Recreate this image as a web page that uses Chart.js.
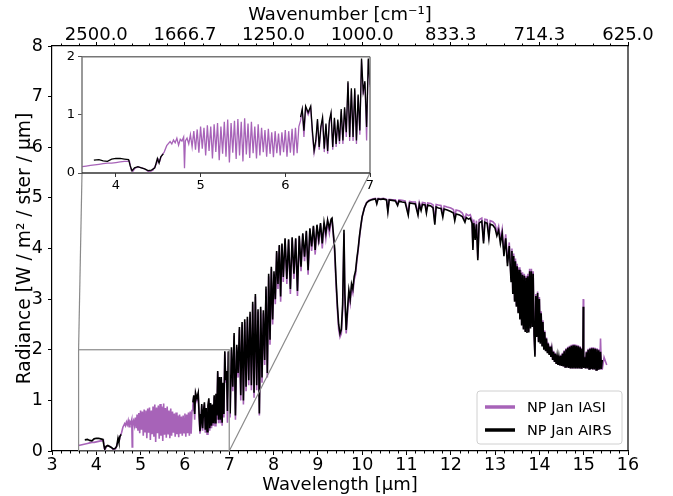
<!DOCTYPE html>
<html>
<head>
<meta charset="utf-8">
<script src="https://cdn.jsdelivr.net/npm/chart.js@4.4.0/dist/chart.umd.min.js"></script>
<style>
  html, body { margin: 0; padding: 0; background: #fff; }
  #wrap { position: relative; width: 673px; height: 496px; }
  #mainChart { position: absolute; left: 0; top: 0; }
  #insetChart { position: absolute; left: 56px; top: 46px; }
</style>
</head>
<body>
<div id="wrap">
  <canvas id="mainChart" width="673" height="496"></canvas>
  <canvas id="insetChart" width="322" height="150"></canvas>
</div>
<script>
const IASI_COLOR = '#a763b8';
const AIRS_COLOR = '#000000';
const FRAME_GREY = '#8a8a8a';

// Series labels
const seriesLabels = ['NP Jan IASI', 'NP Jan AIRS'];

// Tick labels
const mainXTicks = [3, 4, 5, 6, 7, 8, 9, 10, 11, 12, 13, 14, 15, 16];
const topTickWl = [4, 6, 8, 10, 12, 14, 16];
const wavenumberLabels = ['2500.0', '1666.7', '1250.0', '1000.0', '833.3', '714.3', '625.0'];
const insetXTicks = [4, 5, 6, 7];
const insetYTicks = [0, 1, 2];

// IASI only part, short wavelengths (um)
const iasiWlShort = [
  3.60,3.65,3.70,3.75,3.80,3.85,3.90,3.95,4.00,4.05,
  4.10,4.14,4.16,4.18,4.20,4.23,4.27,4.31,4.35,4.38,
  4.41,4.44,4.46,4.48,4.50,4.52,4.54,4.57,4.60,4.64,
  4.66,4.68,4.70,4.72,4.74,4.76,4.78,4.80,4.81,4.82,
  4.84,4.86,4.88,4.90,4.92,4.94,4.96,4.98,5.00,5.02,
  5.04,5.06,5.08,5.10,5.12,5.14,5.16,5.18,5.20,5.22,
  5.24,5.26,5.28,5.30,5.32,5.34,5.36,5.38,5.40,5.42,
  5.44,5.46,5.48,5.50,5.52,5.54,5.56,5.58,5.60,5.62,
  5.64,5.66,5.68,5.70,5.72,5.74,5.76,5.78,5.80,5.82,
  5.84,5.86,5.88,5.90,5.92,5.94,5.96,5.98,6.00,6.02,
  6.04,6.06,6.08,6.10,6.12,6.14,6.16
];
const iasiRadShort = [
  0.11,0.12,0.13,0.14,0.15,0.16,0.17,0.17,0.18,0.19,
  0.20,0.20,0.21,0.05,0.03,0.09,0.10,0.09,0.06,0.03,
  0.03,0.05,0.11,0.16,0.24,0.21,0.30,0.36,0.47,0.54,
  0.50,0.57,0.52,0.60,0.48,0.58,0.55,0.62,0.08,0.55,
  0.60,0.50,0.66,0.45,0.72,0.40,0.75,0.35,0.80,0.42,
  0.78,0.30,0.82,0.38,0.80,0.25,0.84,0.36,0.86,0.22,
  0.80,0.33,0.88,0.28,0.92,0.18,0.86,0.35,0.90,0.24,
  0.93,0.30,0.88,0.20,0.94,0.32,0.85,0.26,0.88,0.34,
  0.80,0.25,0.84,0.30,0.78,0.36,0.74,0.28,0.76,0.33,
  0.70,0.27,0.72,0.34,0.68,0.30,0.70,0.36,0.74,0.28,
  0.72,0.35,0.76,0.30,0.78,0.34,0.80
];

// AIRS short-wave piece
const airsWlShort = [3.74,3.80,3.85,3.90,3.95,4.00,4.05,4.10,4.15,4.17,4.19,4.22,4.26,4.30,4.34,4.38,4.42,4.46,4.49,4.51,4.53,4.56];
const airsRadShort = [0.22,0.23,0.21,0.20,0.24,0.25,0.25,0.24,0.23,0.12,0.04,0.09,0.11,0.09,0.07,0.04,0.05,0.09,0.25,0.17,0.28,0.33];

// shared wavelength grid where both instruments overlap
const longWl = [
  6.18,6.20,6.22,6.24,6.27,6.30,6.32,6.34,6.36,6.38,
  6.40,6.42,6.44,6.46,6.48,6.50,6.52,6.54,6.56,6.58,
  6.60,6.62,6.64,6.66,6.68,6.70,6.72,6.74,6.76,6.78,
  6.80,6.82,6.84,6.86,6.88,6.90,6.92,6.94,6.96,6.98,
  7.00,7.02,7.05,7.08,7.11,7.14,7.17,7.20,7.23,7.26,
  7.29,7.32,7.35,7.38,7.41,7.44,7.47,7.50,7.53,7.56,
  7.59,7.62,7.65,7.68,7.71,7.74,7.77,7.80,7.83,7.86,
  7.89,7.92,7.95,7.98,8.01,8.04,8.07,8.10,8.13,8.16,
  8.19,8.22,8.26,8.30,8.34,8.38,8.42,8.46,8.50,8.54,
  8.58,8.62,8.66,8.70,8.74,8.78,8.82,8.86,8.90,8.94,
  8.98,9.02,9.06,9.10,9.14,9.18,9.22,9.26,9.30,9.32,
  9.35,9.38,9.41,9.44,9.47,9.50,9.53,9.56,9.59,9.61,
  9.64,9.67,9.70,9.73,9.76,9.79,9.82,9.85,9.88,9.91,
  9.94,9.97,10.00,10.05,10.10,10.15,10.20,10.25,10.30,10.33,
  10.36,10.42,10.48,10.55,10.58,10.61,10.68,10.75,10.80,10.83,
  10.90,10.97,11.04,11.07,11.14,11.20,11.26,11.29,11.33,11.36,
  11.42,11.45,11.48,11.55,11.60,11.64,11.67,11.72,11.78,11.82,
  11.85,11.92,12.00,12.06,12.09,12.12,12.20,12.26,12.32,12.35,
  12.40,12.44,12.48,12.50,12.52,12.55,12.58,12.61,12.64,12.70,
  12.74,12.77,12.82,12.86,12.89,12.95,13.00,13.04,13.08,13.12,
  13.16,13.20,13.24,13.28,13.32,13.36,
  13.38,13.40,13.42,13.44,13.46,13.48,13.50,13.52,13.54,13.56,
  13.58,13.60,13.62,13.64,13.66,13.68,13.70,13.72,13.74,13.76,
  13.78,13.80,13.82,13.84,13.86,13.88,13.90,13.92,13.94,13.96,
  13.98,14.00,14.02,14.04,14.06,14.08,14.10,14.12,14.14,14.16,
  14.18,14.20,14.22,14.24,14.26,14.28,14.30,14.32,14.34,14.36,
  14.38,14.40,14.42,14.44,14.46,14.48,14.50,14.52,14.54,14.56,
  14.58,14.60,14.62,14.64,14.66,14.68,14.70,14.72,14.74,14.76,
  14.78,14.80,14.82,14.84,14.86,14.88,14.90,14.92,14.94,14.96,
  14.98,14.99,15.00,15.02,15.04,15.06,15.08,15.10,15.12,15.14,
  15.16,15.18,15.20,15.22,15.24,15.26,15.28,15.30,15.32,15.34,
  15.36,15.38,15.40,15.42,15.46,15.52
];
const airsRadLong = [
  0.96,1.10,0.73,1.15,1.04,1.15,0.73,0.39,0.56,0.93,
  0.45,0.80,0.96,0.42,0.85,0.38,0.90,1.04,0.45,0.95,
  0.50,0.92,0.55,1.10,0.56,1.13,0.70,1.58,0.62,1.46,
  0.62,1.46,0.56,1.35,0.73,1.97,1.40,1.58,0.79,1.97,
  1.52,0.74,2.05,1.27,2.33,0.70,2.10,1.54,2.45,1.10,
  2.55,1.00,2.60,1.27,2.65,1.40,2.75,1.30,2.95,1.15,
  3.10,1.30,2.80,0.74,2.85,1.45,2.78,1.80,3.25,1.54,
  3.50,2.20,3.64,2.60,3.55,3.00,3.95,3.30,4.07,3.05,
  4.10,3.44,4.20,3.40,4.18,3.20,4.22,3.50,4.20,3.16,
  4.25,3.64,4.30,3.84,4.35,3.57,4.40,4.04,4.45,3.97,
  4.47,4.17,4.50,4.10,4.52,4.30,4.56,4.40,4.58,4.60,
  4.30,4.00,3.40,2.90,2.50,2.32,2.40,2.90,4.37,3.10,
  2.39,2.80,3.18,3.00,3.30,3.20,3.45,3.55,3.80,4.00,
  4.25,4.45,4.63,4.80,4.90,4.94,4.96,4.97,4.98,4.88,
  4.98,4.97,4.98,4.96,4.72,4.96,4.95,4.94,4.85,4.94,
  4.92,4.91,4.66,4.90,4.89,4.88,4.66,4.87,4.75,4.87,
  4.86,4.70,4.86,4.84,4.80,4.47,4.82,4.80,4.79,4.62,
  4.78,4.76,4.73,4.70,4.55,4.68,4.66,4.63,4.52,4.61,
  4.58,4.60,4.50,3.97,4.50,4.17,4.48,3.77,4.50,4.54,
  4.10,4.52,4.50,4.20,4.48,4.46,4.40,4.25,4.36,4.10,
  4.30,3.85,4.20,3.65,4.05,3.35,
  3.95,3.10,3.85,2.95,3.75,2.85,3.65,2.72,3.58,2.60,
  3.52,2.48,3.48,2.40,3.46,2.35,3.42,2.33,3.45,2.34,
  3.55,2.42,3.55,2.45,3.50,2.28,1.86,3.06,2.25,3.12,
  2.15,3.00,2.12,2.72,2.08,2.55,2.00,2.35,1.97,2.22,
  1.93,2.12,1.90,2.06,1.86,2.00,1.80,1.96,1.76,1.92,
  1.72,1.88,1.70,1.86,1.69,1.88,1.68,1.92,1.67,1.97,
  1.66,2.01,1.65,2.04,1.64,2.06,1.63,2.08,1.63,2.09,
  1.63,2.09,1.63,2.08,1.63,2.07,1.63,2.05,1.64,2.02,
  1.66,2.85,1.64,1.85,1.63,1.95,1.63,2.00,1.62,2.02,
  1.62,2.03,1.61,2.03,1.61,2.02,1.60,2.01,1.60,1.99,
  1.61,1.96,1.62,1.80,null,null
];
const iasiRadLong = [
  0.90,1.08,0.62,1.12,1.00,1.12,0.66,0.34,0.50,0.90,
  0.40,0.76,0.92,0.36,0.82,0.33,0.86,1.00,0.40,0.92,
  0.45,0.88,0.50,1.06,0.50,1.10,0.62,1.55,0.55,1.42,
  0.55,1.42,0.50,1.32,0.66,1.95,1.35,1.55,0.56,1.95,
  1.48,0.66,2.00,1.18,2.28,0.62,2.05,1.45,2.40,1.00,
  2.50,0.92,2.55,1.18,2.60,1.30,2.70,1.20,2.90,1.05,
  3.05,1.20,2.75,0.70,2.80,1.35,2.72,1.70,3.20,1.45,
  3.45,2.10,3.60,2.50,3.50,2.90,3.92,3.20,4.05,2.95,
  4.08,3.34,4.18,3.30,4.16,3.10,4.20,3.40,4.18,3.06,
  4.23,3.55,4.28,3.75,4.33,3.48,4.38,3.95,4.43,3.88,
  4.45,4.08,4.48,4.00,4.50,4.20,4.54,4.30,4.56,4.58,
  4.25,3.90,3.30,2.80,2.40,2.25,2.32,2.80,4.30,3.00,
  2.32,2.70,3.10,2.92,3.22,3.12,3.38,3.48,3.75,3.96,
  4.22,4.43,4.62,4.80,4.91,4.95,4.97,4.98,4.99,4.90,
  4.99,4.98,4.99,4.97,4.76,4.97,4.96,4.96,4.88,4.96,
  4.95,4.94,4.70,4.93,4.92,4.92,4.70,4.91,4.80,4.91,
  4.90,4.75,4.90,4.89,4.86,4.52,4.87,4.86,4.85,4.68,
  4.84,4.82,4.80,4.77,4.62,4.76,4.74,4.70,4.58,4.68,
  4.65,4.67,4.56,4.02,4.57,4.22,4.55,3.82,4.57,4.60,
  4.15,4.58,4.57,4.26,4.55,4.53,4.48,4.32,4.44,4.18,
  4.38,3.92,4.28,3.72,4.12,3.40,
  4.00,3.12,3.90,2.98,3.80,2.88,3.70,2.75,3.63,2.63,
  3.57,2.50,3.53,2.42,3.50,2.37,3.46,2.35,3.50,2.36,
  3.60,2.44,3.60,2.48,3.55,2.30,1.90,3.10,2.28,3.15,
  2.17,3.04,2.15,2.76,2.10,2.58,2.02,2.38,1.98,2.24,
  1.95,2.14,1.92,2.08,1.88,2.02,1.80,1.98,1.76,1.94,
  1.72,1.90,1.70,1.88,1.69,1.90,1.68,1.94,1.67,1.99,
  1.66,2.03,1.65,2.06,1.64,2.08,1.63,2.10,1.63,2.11,
  1.63,2.11,1.63,2.10,1.63,2.09,1.63,2.07,1.64,2.04,
  1.66,3.00,1.64,1.87,1.63,1.97,1.63,2.02,1.62,2.04,
  1.62,2.05,1.61,2.05,1.61,2.04,1.60,2.03,1.60,2.01,
  1.61,2.22,1.62,1.62,1.85,1.70
];

// zoomed region shown in the inset
const zoomBox = { xMin: 3.6, xMax: 7, yMin: 0, yMax: 2 };

Chart.defaults.font.family = "'DejaVu Sans', sans-serif";
Chart.defaults.color = '#000';

function toPoints(wl, rad) {
    return wl.map((x, i) => ({ x: x, y: rad[i] }));
}

function buildDatasets(lineWidth) {
    const iasi = toPoints(iasiWlShort, iasiRadShort).concat(toPoints(longWl, iasiRadLong));
    // gap between the two AIRS pieces
    const airs = toPoints(airsWlShort, airsRadShort)
        .concat([{ x: 5.4, y: null }], toPoints(longWl, airsRadLong));
    return [
        { label: seriesLabels[0], data: iasi, borderColor: IASI_COLOR, backgroundColor: IASI_COLOR,
          borderWidth: lineWidth, pointRadius: 0, tension: 0, order: 2 },
        { label: seriesLabels[1], data: airs, borderColor: AIRS_COLOR, backgroundColor: AIRS_COLOR,
          borderWidth: lineWidth, pointRadius: 0, tension: 0, order: 1 }
    ];
}

function line(ctx, x1, y1, x2, y2) {
    ctx.beginPath();
    ctx.moveTo(x1, y1);
    ctx.lineTo(x2, y2);
    ctx.stroke();
}

// ---------- Inset ----------
const insetCanvas = document.getElementById('insetChart');

const insetDecor = {
    id: 'insetDecor',
    beforeDraw(chart) {
        const a = chart.chartArea, ctx = chart.ctx;
        ctx.save();
        ctx.fillStyle = '#fff';
        ctx.fillRect(a.left, a.top, a.right - a.left, a.bottom - a.top);
        ctx.restore();
    },
    afterDraw(chart) {
        const a = chart.chartArea, ctx = chart.ctx;
        ctx.save();
        ctx.lineWidth = 1.5;
        ctx.strokeStyle = '#777';
        line(ctx, a.left, a.top, a.right, a.top);
        line(ctx, a.right, a.top, a.right, a.bottom);
        line(ctx, a.left, a.top, a.left, a.bottom);
        ctx.strokeStyle = '#333';
        line(ctx, a.left, a.bottom, a.right, a.bottom);
        ctx.restore();
    }
};

const insetChart = new Chart(insetCanvas, {
    type: 'line',
    data: { datasets: buildDatasets(1.3) },
    options: {
        responsive: false,
        animation: false,
        events: [],
        layout: { padding: { top: 9, right: 8, left: 0, bottom: 0 } },
        plugins: { legend: { display: false }, tooltip: { enabled: false } },
        scales: {
            x: {
                type: 'linear', min: zoomBox.xMin, max: zoomBox.xMax,
                afterBuildTicks: s => { s.ticks = insetXTicks.map(v => ({ value: v })); },
                afterFit: s => { s.height = 23; },
                ticks: { font: { size: 13 }, padding: 1, maxRotation: 0 },
                grid: { drawOnChartArea: false, tickLength: 4, color: '#333' },
                border: { display: false }
            },
            y: {
                type: 'linear', min: zoomBox.yMin, max: zoomBox.yMax,
                afterBuildTicks: s => { s.ticks = insetYTicks.map(v => ({ value: v })); },
                afterFit: s => { s.width = 26; },
                ticks: { font: { size: 13 }, padding: 3 },
                grid: { drawOnChartArea: false, tickLength: 4, color: '#555' },
                border: { display: false }
            }
        }
    },
    plugins: [insetDecor]
});

// ---------- Main chart ----------
const mainDecor = {
    id: 'mainDecor',
    afterDatasetsDraw(chart) {
        const ctx = chart.ctx, xs = chart.scales.x, ys = chart.scales.y;
        // zoom rectangle
        const x0 = xs.getPixelForValue(zoomBox.xMin), x1 = xs.getPixelForValue(zoomBox.xMax);
        const y0 = ys.getPixelForValue(zoomBox.yMin), y1 = ys.getPixelForValue(zoomBox.yMax);
        const ia = insetChart.chartArea;
        const ox = insetCanvas.offsetLeft, oy = insetCanvas.offsetTop;
        ctx.save();
        ctx.strokeStyle = FRAME_GREY;
        ctx.lineWidth = 1.2;
        ctx.strokeRect(x0, y1, x1 - x0, y0 - y1);
        // connectors to the inset
        line(ctx, x0, y1, ox + ia.left, oy + ia.bottom);
        line(ctx, x1, y0, ox + ia.right, oy + ia.bottom);
        ctx.restore();
    },
    afterDraw(chart) {
        const ctx = chart.ctx, a = chart.chartArea, xs = chart.scales.x;
        ctx.save();
        ctx.strokeStyle = '#000';
        ctx.lineWidth = 1.2;
        line(ctx, a.right, a.top, a.right, a.bottom);

        // minor ticks
        ctx.lineWidth = 1;
        ctx.beginPath();
        for (let k = 16; k <= 79; k++) {
            if (k % 5 === 0) continue;
            const px = Math.round(xs.getPixelForValue(k / 5)) + 0.5;
            ctx.moveTo(px, a.bottom);
            ctx.lineTo(px, a.bottom + 2.5);
        }
        for (let k = 8; k <= 39; k++) {
            if (k % 5 === 0) continue;
            const px = Math.round(xs.getPixelForValue(k * 0.4)) + 0.5;
            ctx.moveTo(px, a.top);
            ctx.lineTo(px, a.top - 2.5);
        }
        ctx.stroke();

        // legend box
        const w = 145, h = 53, r = 3;
        const bx = a.right - 6 - w, by = a.bottom - 7 - h;
        ctx.beginPath();
        ctx.moveTo(bx + r, by);
        ctx.arcTo(bx + w, by, bx + w, by + h, r);
        ctx.arcTo(bx + w, by + h, bx, by + h, r);
        ctx.arcTo(bx, by + h, bx, by, r);
        ctx.arcTo(bx, by, bx + w, by, r);
        ctx.closePath();
        ctx.fillStyle = 'rgba(255,255,255,0.8)';
        ctx.fill();
        ctx.strokeStyle = '#d0d0d0';
        ctx.lineWidth = 1;
        ctx.stroke();

        ctx.font = "14.5px 'DejaVu Sans'";
        ctx.textBaseline = 'middle';
        ctx.fillStyle = '#000';
        chart.data.datasets.forEach((ds, i) => {
            const ry = by + 16 + i * 23;
            ctx.strokeStyle = ds.borderColor;
            ctx.lineWidth = 3.5;
            line(ctx, bx + 8, ry, bx + 38, ry);
            ctx.fillText(ds.label, bx + 50, ry + 1);
        });
        ctx.restore();
    }
};

const mainChart = new Chart(document.getElementById('mainChart'), {
    type: 'line',
    data: { datasets: buildDatasets(1.6) },
    options: {
        responsive: false,
        animation: false,
        events: [],
        layout: { padding: { top: 0, right: 45, left: 0, bottom: 0 } },
        plugins: { legend: { display: false }, tooltip: { enabled: false } },
        scales: {
            x: {
                type: 'linear', position: 'bottom', min: 3, max: 16,
                afterBuildTicks: s => { s.ticks = mainXTicks.map(v => ({ value: v })); },
                afterFit: s => { s.height = 45; },
                ticks: { font: { size: 17.5 }, padding: 0, maxRotation: 0 },
                grid: { drawOnChartArea: false, tickLength: 4, color: '#000' },
                border: { color: '#000', width: 1.2 },
                title: { display: true, text: 'Wavelength [μm]', font: { size: 18 }, padding: { top: 0, bottom: 0 } }
            },
            x2: {
                type: 'linear', position: 'top', min: 3, max: 16,
                afterBuildTicks: s => { s.ticks = topTickWl.map(v => ({ value: v })); },
                afterFit: s => { s.height = 46; },
                ticks: {
                    font: { size: 18 }, padding: -4, maxRotation: 0,
                    callback: v => wavenumberLabels[topTickWl.indexOf(v)]
                },
                grid: { drawOnChartArea: false, tickLength: 4, color: '#000' },
                border: { color: '#000', width: 1.2 },
                title: { display: true, text: 'Wavenumber [cm⁻¹]', font: { size: 18 }, padding: { top: 5, bottom: 0 } }
            },
            y: {
                type: 'linear', min: 0, max: 8,
                ticks: { stepSize: 1, font: { size: 17.5 }, padding: 5 },
                afterFit: s => { s.width = 52; },
                grid: { drawOnChartArea: false, tickLength: 4, color: '#000' },
                border: { color: '#000', width: 1.2 },
                title: { display: true, text: 'Radiance [W / m² / ster / μm]', font: { size: 18.7 }, padding: { top: 14, bottom: 0 } }
            }
        }
    },
    plugins: [mainDecor]
});
</script>
</body>
</html>
